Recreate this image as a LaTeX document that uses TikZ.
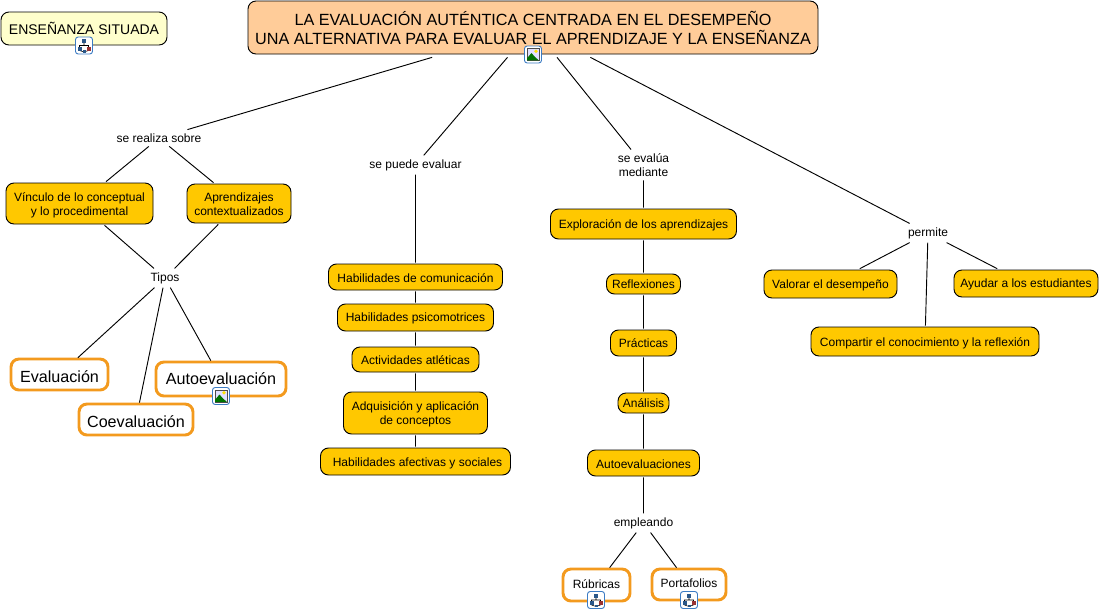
\documentclass[tikz,border=0pt]{standalone}
\usepackage{fontspec}
\setmainfont{Liberation Sans}
\definecolor{rootfill}{HTML}{FFCC99}
\definecolor{notefill}{HTML}{FFFFCC}
\definecolor{conceptfill}{HTML}{FFC800}
\definecolor{orangeline}{HTML}{F39A1E}
\definecolor{iconblue}{HTML}{3C7CC4}
\newcommand{\bx}[7]{%
  \pgfmathsetmacro{\cxx}{(#3+#5)/2}\pgfmathsetmacro{\cyy}{(#4+#6)/2}%
  \pgfmathsetmacro{\wdd}{(#5-#3)*0.75}\pgfmathsetmacro{\htt}{(#6-#4)*0.75}%
  \node[#2,minimum width=\wdd pt,minimum height=\htt pt] (#1) at (\cxx,\cyy) {#7};}
% push a node's text down by #1 pixels
\newcommand{\dn}[1]{\rule{0pt}{\dimexpr 0.73em + 1.5pt * #1\relax}}
% lift a node's text up by one pixel
\newcommand{\up}{\rule[-1.5pt]{0pt}{1.5pt}}
\tikzset{
  x=0.75pt,y=-0.75pt,
  every node/.style={align=center,inner sep=0pt,outer sep=0pt,font=\fontsize{9}{10.5}\selectfont,text=black},
  conceptbox/.style={draw=black,line width=0.7pt,rounded corners=6pt,fill=conceptfill,outer sep=1pt},
  rootbox/.style={draw=black,line width=0.7pt,rounded corners=6pt,fill=rootfill,font=\fontsize{12.15}{14.3}\selectfont,outer sep=2.5pt},
  notebox/.style={draw=black,line width=0.7pt,rounded corners=6pt,fill=notefill,font=\fontsize{10.5}{12}\selectfont},
  orangebox/.style={draw=orangeline,line width=2.2pt,rounded corners=6pt,fill=white,outer sep=1pt},
  bigorange/.style={orangebox,font=\fontsize{12.1}{14}\selectfont},
  linklabel/.style={inner sep=3pt,fill=white},
  connector/.style={draw=black,line width=0.7pt},
  iconframe/.style={draw=iconblue,line width=0.7pt,fill=white,rounded corners=2pt},
  mapicon/.pic={
    \path[iconframe] (-8.5,-8.5) rectangle (8.5,8.5);
    \draw[black,line width=0.4pt] (0,-3) -- (0,0) (-4.5,2) -- (-4.5,0) -- (4.5,0) -- (4.5,2) (-4.5,5) -- (0,6.5) -- (4.5,5);
    \fill[iconblue!70!black] (-2.2,-6.5) rectangle (2.2,-2.5);
    \fill[iconblue!70!black] (-6.5,1) rectangle (-2.5,5);
    \fill[red!50!black!80] (2.5,1) rectangle (6.5,5);
    \fill[iconblue!70!black] (-1.5,4.5) rectangle (1.5,7.2);
  },
  photoicon/.pic={
    \path[iconframe] (-8.5,-8.5) rectangle (8.5,8.5);
    \draw[black!70,fill=blue!12,line width=0.4pt] (-6,-6) rectangle (6,6);
    \fill[yellow!85!orange] (3,-3.3) circle (1.8);
    \fill[green!45!black] (-5.8,5.8) -- (-5.8,3.5) -- (-1.5,-1.5) -- (2,2.5) -- (5.8,5.8) -- cycle;
  }
}
\begin{document}
\begin{tikzpicture}
\useasboundingbox (0,0) rectangle (1104,612);
\bx{ens}{notebox}{1}{12}{167}{45}{ENSEÑANZA SITUADA}
\bx{root}{rootbox}{248}{1}{818}{54}{LA EVALUACIÓN AUTÉNTICA CENTRADA EN EL DESEMPEÑO\\UNA ALTERNATIVA PARA EVALUAR EL APRENDIZAJE Y LA ENSEÑANZA}
\node[linklabel] (l1) at (159,138) {se realiza sobre};
\bx{vinc}{conceptbox}{6}{183}{153}{224}{\dn{2}Vínculo de lo conceptual\\y lo procedimental}
\bx{apre}{conceptbox}{187}{184}{291}{223}{\dn{1}Aprendizajes\\contextualizados}
\node[linklabel] (tipos) at (165,278) {Tipos};
\bx{eval}{bigorange}{11}{359}{108}{390}{\dn{2}Evaluación}
\bx{auto}{bigorange}{156}{362}{286}{396}{Autoevaluación}
\bx{coev}{bigorange}{79}{404}{193}{435}{\dn{2}Coevaluación}
\node[linklabel] (l2) at (415.5,165) {se puede evaluar};
\bx{hcom}{conceptbox}{328.5}{264}{502.5}{290}{\dn{1}Habilidades de comunicación}
\bx{hpsi}{conceptbox}{337.5}{304}{493.5}{331}{\dn{1}Habilidades psicomotrices}
\bx{aatl}{conceptbox}{352}{347}{479}{372}{\dn{1}Actividades atléticas}
\bx{adq}{conceptbox}{343.5}{392}{487.5}{434}{\dn{1}Adquisición y aplicación\\de conceptos}
\bx{afec}{conceptbox}{320.5}{448}{510.5}{475}{\hspace*{3pt}\dn{2}Habilidades afectivas y sociales}
\node[linklabel] (l3) at (643.5,165) {se evalúa\\mediante};
\bx{expl}{conceptbox}{550.5}{209}{736.5}{239}{\dn{1}Exploración de los aprendizajes}
\bx{refl}{conceptbox}{606.5}{274}{680.5}{294}{Reflexiones}
\bx{prac}{conceptbox}{610.5}{330}{676.5}{356}{Prácticas}
\bx{anal}{conceptbox}{618}{393}{669}{413}{Análisis}
\bx{aute}{conceptbox}{587.5}{450}{699.5}{476}{\dn{1}Autoevaluaciones}
\node[linklabel] (empl) at (643.5,523) {empleando};
\bx{rubr}{orangebox}{563}{569}{630}{601}{\up Rúbricas}
\bx{port}{orangebox}{652}{569}{726}{600}{\up Portafolios}
\node[linklabel] (perm) at (928,233) {permite};
\bx{valo}{conceptbox}{764}{270}{897}{298}{\dn{1}Valorar el desempeño}
\bx{comp}{conceptbox}{811}{327}{1039}{356}{\dn{2}Compartir el conocimiento y la reflexión}
\bx{ayud}{conceptbox}{954}{270}{1098}{297}{\dn{1}Ayudar a los estudiantes}
\path[connector]
 (root) -- (l1) (l1) -- (vinc) (l1) -- (apre) (vinc) -- (tipos) (apre) -- (tipos)
 (tipos) -- (eval) (tipos) -- (coev) (tipos) -- (auto)
 (root) -- (l2) (l2) -- (hcom) (hcom) -- (hpsi) (hpsi) -- (aatl) (aatl) -- (adq) (adq) -- (afec)
 (root) -- (l3) (l3) -- (expl) (expl) -- (refl) (refl) -- (prac) (prac) -- (anal) (anal) -- (aute) (aute) -- (empl)
 (empl) -- (rubr) (empl) -- (port)
 (root) -- (perm) (perm) -- (valo) (perm) -- (comp) (perm) -- (ayud);
\pic at (84,45.5) {mapicon};
\pic at (533,54.5) {photoicon};
\pic at (221,396) {photoicon};
\pic at (596,600) {mapicon};
\pic at (689,600) {mapicon};
\end{tikzpicture}
\end{document}
